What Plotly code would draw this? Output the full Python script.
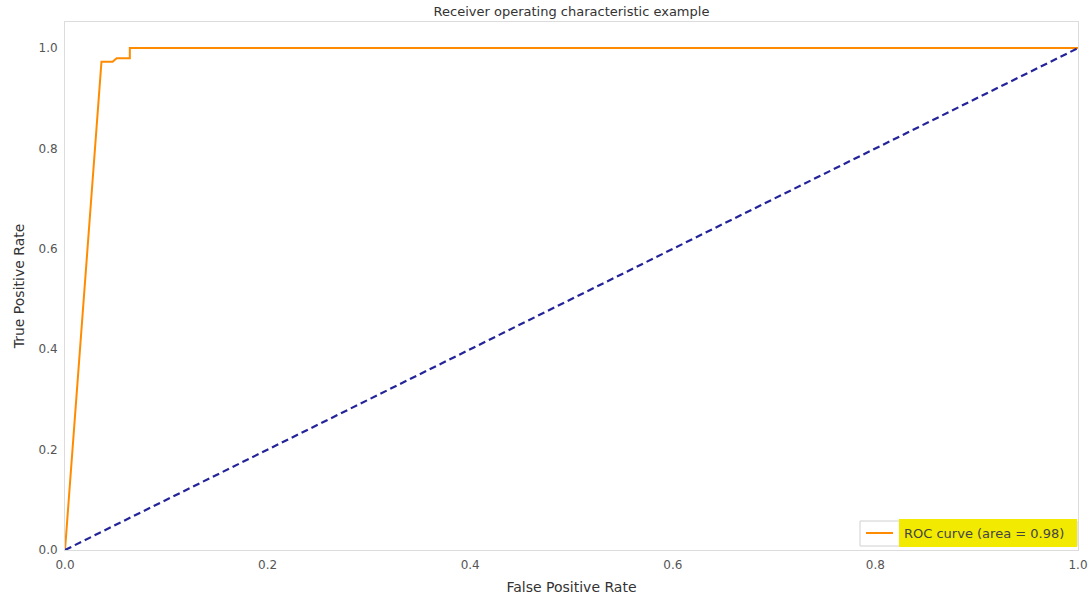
import plotly.graph_objects as go

# ROC curve data
fpr = [0.0, 0.036, 0.047, 0.051, 0.064, 0.064, 1.0]
tpr = [0.0, 0.973, 0.973, 0.980, 0.980, 1.0, 1.0]
diag_x = [0.0, 1.0]
diag_y = [0.0, 1.0]
roc_auc = 0.98
tick_vals = [0.0, 0.2, 0.4, 0.6, 0.8, 1.0]
tick_text = ["0.0", "0.2", "0.4", "0.6", "0.8", "1.0"]

FONT = "DejaVu Sans"

fig = go.Figure()
fig.add_trace(go.Scatter(x=fpr, y=tpr, mode="lines",
                         line=dict(color="#ff8c00", width=2),
                         name=f"ROC curve (area = {roc_auc:.2f})"))
fig.add_trace(go.Scatter(x=diag_x, y=diag_y, mode="lines",
                         line=dict(color="#24249a", width=2.2, dash="7px,4px"),
                         showlegend=False))

axis_common = dict(showgrid=False, zeroline=False, showline=True, mirror=True,
                   linecolor="#dcdcdc", linewidth=1, ticks="", automargin=False,
                   tickfont=dict(family=FONT, size=12, color="#555555"),
                   tickvals=tick_vals, ticktext=tick_text)

fig.update_layout(
    width=1090, height=599,
    margin=dict(l=65, r=12, t=22, b=49),
    paper_bgcolor="white", plot_bgcolor="white",
    showlegend=False,
    title=dict(text="Receiver operating characteristic example",
               x=(65 + 1078) / 2 / 1090, xanchor="center", y=1 - 11 / 599, yanchor="middle",
               font=dict(family=FONT, size=13, color="#333333")),
    xaxis=dict(range=[0, 1], ticklabelstandoff=4,
               title=dict(text="False Positive Rate", standoff=10,
                          font=dict(family=FONT, size=14, color="#333333")), **axis_common),
    yaxis=dict(range=[0, 1.052], ticklabelstandoff=4,
               title=dict(text="True Positive Rate", standoff=10,
                          font=dict(family=FONT, size=14, color="#333333")), **axis_common),
)

# Manual legend box
fig.add_shape(type="rect", xref="paper", yref="paper",
              x0=(860 - 65) / 1013, x1=(1077 - 65) / 1013,
              y0=(550 - 546) / 528, y1=(550 - 521) / 528,
              line=dict(color="#d0d0d0", width=1), fillcolor="white", layer="above")
fig.add_shape(type="rect", xref="paper", yref="paper",
              x0=(899 - 65) / 1013, x1=(1077 - 65) / 1013,
              y0=(550 - 547) / 528, y1=(550 - 519) / 528,
              line=dict(width=0), fillcolor="#f2ea00", layer="above")
fig.add_shape(type="line", xref="paper", yref="paper",
              x0=(866 - 65) / 1013, x1=(893 - 65) / 1013,
              y0=(550 - 533) / 528, y1=(550 - 533) / 528,
              line=dict(color="#ff8c00", width=2), layer="above")
fig.add_annotation(xref="paper", yref="paper",
                   x=(902 - 65) / 1013, y=(550 - 533) / 528,
                   xanchor="left", yanchor="middle", showarrow=False,
                   text=f"ROC curve (area = {roc_auc:.2f})",
                   font=dict(family=FONT, size=13, color="#444444"))

fig.write_html("out.html", config={"displayModeBar": False},
               post_script="document.body.style.margin='0';")
